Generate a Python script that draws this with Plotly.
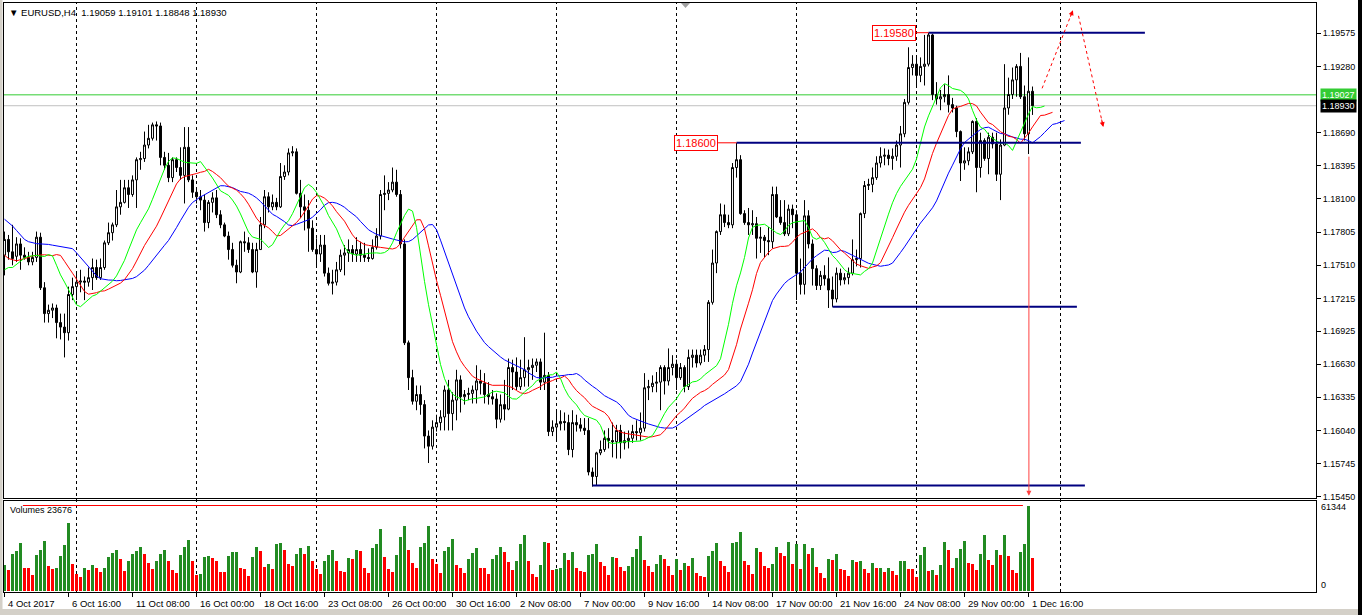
import numpy as np
import plotly.graph_objects as go

PIP = 10000.0

# ---------------- price data (EURUSD H4, in pips) ----------------
opens_pips = [
    11760, 11774, 11763, 11759, 11770, 11760, 11758, 11754, 11758, 11776,
    11731, 11708, 11711, 11713, 11700, 11696, 11691, 11725, 11732, 11736,
    11737, 11736, 11740, 11749, 11740, 11749, 11771, 11780, 11787, 11803,
    11807, 11820, 11814, 11827, 11845, 11846, 11858, 11864, 11876, 11875,
    11847, 11840, 11829, 11845, 11838, 11831, 11856, 11827, 11816, 11812,
    11809, 11789, 11807, 11811, 11796, 11787, 11777, 11765, 11751, 11745,
    11772, 11771, 11765, 11745, 11765,
    11787, 11812, 11803, 11807, 11803, 11830, 11834, 11851, 11852, 11815,
    11803, 11800, 11784, 11765, 11761, 11769, 11744, 11735, 11736, 11747,
    11760, 11762, 11765, 11761, 11765, 11760, 11758, 11757, 11767, 11777,
    11814, 11815, 11818, 11825, 11814, 11770, 11682, 11651, 11630, 11636,
    11627, 11599, 11590, 11607, 11611, 11616, 11640, 11619, 11631, 11649,
    11634, 11636, 11637, 11640, 11648, 11646, 11636, 11634, 11632, 11614,
    11627, 11623, 11660, 11656, 11643,
    11651, 11658, 11660, 11662, 11665, 11647, 11653, 11603, 11607, 11610,
    11612, 11611, 11587, 11611, 11609, 11606, 11604, 11567, 11563, 11584,
    11587, 11597, 11595, 11594, 11604, 11593, 11595, 11597, 11603, 11602,
    11606, 11642, 11643, 11646, 11647, 11660, 11648, 11660, 11663, 11651,
    11660, 11643, 11669, 11671, 11664, 11671, 11676, 11718, 11753, 11781,
    11796, 11789, 11787, 11838, 11845, 11797, 11789, 11787, 11788, 11775,
    11776, 11773, 11772, 11814,
    11794, 11789, 11779, 11801, 11796, 11744, 11734, 11795, 11770, 11748,
    11733, 11742, 11739, 11729, 11721, 11744, 11738, 11740, 11744, 11756,
    11757, 11797, 11822, 11823, 11829, 11842, 11848, 11849, 11846, 11848,
    11858, 11868, 11896, 11927, 11930, 11920, 11928, 11930, 11956, 11903,
    11899, 11901, 11903, 11894, 11891, 11870, 11842, 11844, 11852, 11879,
    11838, 11862, 11846, 11865, 11859, 11832, 11858, 11891, 11903, 11916,
    11928, 11901, 11868, 11905.9,
]
highs_pips = [
    11781, 11778, 11787, 11776, 11775, 11767, 11763, 11763, 11781, 11780,
    11736, 11716, 11717, 11716, 11708, 11708, 11732, 11740, 11744, 11747,
    11741, 11749, 11757, 11756, 11757, 11773, 11789, 11789, 11818, 11827,
    11827, 11827, 11831, 11847, 11852, 11870, 11876, 11878, 11879, 11878,
    11852, 11851, 11847, 11847, 11856, 11874, 11874, 11831, 11820, 11818,
    11814, 11809, 11816, 11818, 11800, 11789, 11781, 11771, 11756, 11773,
    11781, 11776, 11771, 11771, 11794,
    11818, 11816, 11814, 11811, 11842, 11840, 11855, 11857, 11855, 11827,
    11814, 11809, 11791, 11775, 11778, 11778, 11749, 11747, 11754, 11765,
    11769, 11774, 11769, 11776, 11772, 11771, 11766, 11774, 11784, 11818,
    11831, 11825, 11838, 11836, 11818, 11774, 11684, 11658, 11644, 11644,
    11631, 11604, 11613, 11618, 11622, 11644, 11649, 11638, 11658, 11653,
    11640, 11642, 11644, 11662, 11658, 11655, 11647, 11640, 11637, 11636,
    11649, 11668, 11667, 11669, 11667,
    11687, 11667, 11668, 11668, 11668, 11691, 11656, 11613, 11622, 11622,
    11620, 11618, 11622, 11618, 11615, 11615, 11615, 11571, 11585, 11595,
    11604, 11606, 11611, 11609, 11609, 11603, 11604, 11609, 11613, 11620,
    11655, 11649, 11653, 11656, 11662, 11662, 11677, 11671, 11667, 11664,
    11662, 11676, 11676, 11676, 11676, 11680, 11720, 11765, 11782, 11806,
    11805, 11796, 11842, 11860, 11849, 11800, 11802, 11800, 11794, 11785,
    11778, 11785, 11821, 11821,
    11809, 11809, 11805, 11805, 11800, 11757, 11809, 11800, 11774, 11751,
    11746, 11751, 11758, 11741, 11749, 11748, 11744, 11749, 11774, 11765,
    11798, 11826, 11828, 11838, 11848, 11856, 11855, 11854, 11855, 11862,
    11875, 11899, 11945, 11938, 11936, 11936, 11956, 11958, 11957, 11914,
    11907, 11912, 11920, 11900, 11893, 11871, 11856, 11856, 11880, 11882,
    11869, 11864, 11869, 11869, 11869, 11863, 11930, 11918, 11927, 11930,
    11940, 11911, 11936, 11910.1,
]
lows_pips = [
    11742, 11756, 11751, 11754, 11747, 11756, 11751, 11751, 11754, 11729,
    11700, 11700, 11704, 11686, 11685, 11669, 11684, 11720, 11720, 11727,
    11720, 11732, 11729, 11738, 11738, 11747, 11769, 11773, 11785, 11796,
    11806, 11802, 11812, 11802, 11836, 11843, 11855, 11862, 11862, 11840,
    11836, 11825, 11825, 11834, 11827, 11806, 11825, 11811, 11806, 11800,
    11781, 11784, 11798, 11793, 11784, 11776, 11756, 11749, 11735, 11744,
    11763, 11762, 11744, 11731, 11765,
    11784, 11798, 11800, 11800, 11802, 11827, 11831, 11848, 11814, 11793,
    11782, 11763, 11763, 11751, 11754, 11741, 11733, 11725, 11733, 11745,
    11742, 11754, 11754, 11754, 11754, 11754, 11754, 11756, 11765, 11774,
    11800, 11809, 11816, 11812, 11766, 11680, 11640, 11627, 11622, 11618,
    11588, 11575, 11587, 11603, 11604, 11604, 11604, 11604, 11613, 11620,
    11627, 11631, 11628, 11628, 11636, 11628, 11627, 11627, 11606, 11611,
    11613, 11622, 11640, 11640, 11640,
    11643, 11643, 11649, 11656, 11640, 11640, 11599, 11599, 11595, 11604,
    11604, 11582, 11580, 11603, 11603, 11600, 11564, 11554, 11555, 11582,
    11585, 11588, 11580, 11579, 11579, 11587, 11588, 11593, 11595, 11595,
    11603, 11631, 11638, 11638, 11622, 11636, 11644, 11653, 11640, 11649,
    11638, 11640, 11660, 11660, 11662, 11665, 11665, 11716, 11744, 11778,
    11785, 11784, 11784, 11829, 11796, 11787, 11778, 11778, 11757, 11762,
    11758, 11760, 11766, 11793,
    11787, 11777, 11777, 11784, 11720, 11725, 11725, 11766, 11733, 11729,
    11729, 11733, 11713, 11714, 11718, 11733, 11734, 11734, 11742, 11750,
    11749, 11793, 11818, 11816, 11827, 11838, 11840, 11840, 11836, 11844,
    11838, 11865, 11894, 11920, 11911, 11914, 11911, 11928, 11898, 11894,
    11889, 11896, 11887, 11887, 11865, 11826, 11836, 11840, 11850, 11816,
    11829, 11844, 11832, 11855, 11826, 11809, 11857, 11885, 11899, 11901,
    11899, 11862, 11850, 11884.8,
]
closes_pips = [
    11774, 11763, 11757, 11770, 11760, 11758, 11754, 11758, 11776, 11731,
    11708, 11711, 11713, 11700, 11696, 11691, 11725, 11732, 11736, 11737,
    11736, 11740, 11749, 11740, 11749, 11771, 11780, 11787, 11803, 11807,
    11820, 11814, 11827, 11845, 11846, 11858, 11864, 11876, 11875, 11847,
    11840, 11829, 11845, 11838, 11831, 11856, 11827, 11816, 11812, 11809,
    11789, 11807, 11811, 11796, 11787, 11777, 11765, 11751, 11745, 11772,
    11771, 11765, 11745, 11765, 11787,
    11812, 11803, 11807, 11803, 11830, 11834, 11851, 11852, 11815, 11803,
    11800, 11784, 11765, 11761, 11769, 11744, 11735, 11736, 11747, 11760,
    11762, 11765, 11761, 11765, 11760, 11758, 11757, 11767, 11777, 11814,
    11815, 11818, 11825, 11814, 11770, 11682, 11651, 11630, 11636, 11627,
    11599, 11590, 11607, 11611, 11616, 11640, 11619, 11631, 11649, 11634,
    11636, 11637, 11640, 11648, 11646, 11636, 11634, 11632, 11614, 11627,
    11623, 11660, 11656, 11643, 11651,
    11658, 11660, 11662, 11665, 11647, 11653, 11603, 11607, 11610, 11612,
    11611, 11587, 11611, 11609, 11606, 11604, 11567, 11563, 11584, 11587,
    11597, 11595, 11594, 11604, 11593, 11595, 11597, 11603, 11602, 11606,
    11642, 11643, 11646, 11647, 11660, 11648, 11660, 11663, 11651, 11660,
    11643, 11669, 11671, 11664, 11671, 11676, 11718, 11753, 11781, 11796,
    11789, 11787, 11838, 11845, 11797, 11789, 11787, 11788, 11775, 11776,
    11773, 11772, 11814, 11794,
    11789, 11779, 11801, 11796, 11744, 11734, 11795, 11770, 11748, 11733,
    11742, 11739, 11729, 11721, 11744, 11738, 11740, 11744, 11756, 11757,
    11797, 11822, 11823, 11829, 11842, 11848, 11849, 11846, 11848, 11858,
    11868, 11896, 11927, 11930, 11920, 11928, 11930, 11956, 11903, 11899,
    11901, 11903, 11894, 11891, 11870, 11842, 11844, 11852, 11879, 11838,
    11862, 11846, 11865, 11859, 11832, 11858, 11891, 11903, 11916, 11928,
    11901, 11868, 11905.9, 11893.0,
]
volumes = [
    18500, 15000, 26500, 28700, 35000, 16400, 16300, 11300, 25800, 30000,
    36000, 17800, 15700, 16400, 25000, 33000, 49000, 19300, 12000, 9900,
    16400, 15000, 18500, 16400, 13700, 17000, 24300, 27200, 30000, 23000,
    14200, 21400, 26500, 28700, 32000, 26500, 20000, 15700, 22000, 26500,
    29400, 21400, 15000, 12800, 25800, 32000, 36600, 22000, 11300, 12000,
    24300, 25000, 24000, 22000, 13500, 13400, 25000, 28000, 28500, 17000,
    15700, 10600, 24300, 31600, 28700, 17400, 19800, 15700, 34000, 35000,
    30000, 19300, 17800, 26500, 30800, 27000, 32300, 21400, 15700, 12000,
    22000, 25800, 29400, 21400, 14200, 13500, 23600, 23000, 29400, 28700,
    16400, 12800, 30800, 33700, 44600, 24300, 15700, 13500, 25800, 38800,
    46800, 30000, 20000, 17000, 31600, 34500, 46800, 23000, 19300, 12800,
    28700, 31600, 37400, 18600, 17000, 12800, 23000, 27200, 30800, 17000,
    16400, 12000, 23000, 25800, 31600, 28000, 20700, 15000, 22000, 33700,
    40500, 21700, 12300, 10000, 18800, 35400, 34500, 15200, 15900, 16600,
    27500, 22400, 28200, 16600, 14500, 13700, 26000, 26800, 34000, 21000,
    18000, 11600, 24600, 23900, 17400, 14500, 18000, 24600, 30400, 39800,
    22400, 18000, 13700, 19500, 26000, 23000, 18000, 11600, 23000, 15200,
    20200, 18000, 23900, 13000, 10800, 10000, 25300, 29000, 34700, 21700,
    18000, 13700, 34700, 35400, 42700, 21700, 18800, 12300, 31000, 28200,
    18000, 16600, 19500, 31800, 27800, 25200, 35200, 19600, 34200, 15900,
    33700, 27000, 31000, 17200, 13300, 9300, 23000, 22300, 26500, 15900,
    15100, 10900, 22500, 20900, 21700, 15600, 12700, 19900, 16400, 17000,
    13800, 16700, 14300, 11900, 21700, 22000, 15900, 15800, 10000, 26000,
    31500, 14300, 15100, 11700, 18800, 35800, 30000, 17000, 23900, 30500,
    36300, 19900, 19800, 15100, 26800, 40300, 22300, 19100, 29400, 25700,
    40800, 25200, 15100, 12700, 28400, 33900, 61344, 23676,
]

# Alligator values already on the chart before the first bar (pips)
jaw_pre = [11792, 11789, 11786, 11782, 11778, 11774, 11772, 11771]
teeth_pre = [11760, 11757, 11756, 11755, 11756]
lips_pre = [11747, 11749, 11749]

# x-axis labels (bar index -> text)
tick_bars = [0, 16, 32, 48, 64, 80, 96, 112, 128, 144, 160, 176, 192, 208, 224, 240, 256]
tick_texts = ["4 Oct 2017", "6 Oct 16:00", "11 Oct 08:00", "16 Oct 00:00", "18 Oct 16:00",
              "23 Oct 08:00", "26 Oct 00:00", "30 Oct 16:00", "2 Nov 08:00", "7 Nov 00:00",
              "9 Nov 16:00", "14 Nov 08:00", "17 Nov 00:00", "21 Nov 16:00", "24 Nov 08:00",
              "29 Nov 00:00", "1 Dec 16:00"]
grid_bars = [18, 48, 78, 108, 138, 168, 198, 228, 264]

price_ticks = [1.19575, 1.19280, 1.18690, 1.18395, 1.18100, 1.17805, 1.17510,
               1.17215, 1.16925, 1.16630, 1.16335, 1.16040, 1.15745, 1.15450]

# drawn objects (price levels and start/end bars)
levels = [(1.19580, 231, 285.1), (1.18600, 183, 269.1), (1.17140, 207, 268.1), (1.15550, 147, 270.1)]
green_level = 1.19027
bid_level = 1.18930

# ---------------- computations ----------------
o = np.array(opens_pips) / PIP
h = np.array(highs_pips) / PIP
l = np.array(lows_pips) / PIP
c = np.array(closes_pips) / PIP
v = np.array(volumes, dtype=float)
n = len(c)
x = np.arange(n)
med = (h + l) / 2.0


def smma(pre, period):
    vals = [p / PIP for p in pre]
    s = vals[-1]
    for m in med:
        s = (s * (period - 1) + m) / period
        vals.append(s)
    return np.arange(len(vals)), vals


jaw_x, jaw_y = smma(jaw_pre, 13)
teeth_x, teeth_y = smma(teeth_pre, 8)
lips_x, lips_y = smma(lips_pre, 5)

vol_colors = ['#228B22'] + ['#228B22' if v[i] > v[i - 1] else '#FF0000' for i in range(1, n)]

# ---------------- layout geometry ----------------
W, H = 1362, 615
ML, MR, MT, MB = 4, 46, 3, 23
PH = H - MT - MB
PW = W - ML - MR


def px_x(p):
    return (p - ML) / PW


def px_y(p):
    return (H - MB - p) / PH


XR = [-0.125, (W - MR - 4.5) / 4.0]
main_dom = [px_y(498), 1.0]
vol_dom = [0.0, px_y(501)]
YR = [1.19871 - 0.000089 * 498, 1.19871 - 0.000089 * MT]
VR = [-723, 65106]

FONT = "Liberation Sans, Arial, sans-serif"

fig = go.Figure()
fig.add_trace(go.Candlestick(
    x=x, open=o, high=h, low=l, close=c,
    increasing=dict(line=dict(color='black', width=1), fillcolor='white'),
    decreasing=dict(line=dict(color='black', width=1), fillcolor='black'),
    whiskerwidth=0, xaxis='x', yaxis='y', hoverinfo='skip', showlegend=False))
fig.add_trace(go.Scatter(x=jaw_x, y=jaw_y, mode='lines', line=dict(color='#0000FF', width=1),
                         xaxis='x', yaxis='y', hoverinfo='skip', showlegend=False))
fig.add_trace(go.Scatter(x=teeth_x, y=teeth_y, mode='lines', line=dict(color='#FF0000', width=1),
                         xaxis='x', yaxis='y', hoverinfo='skip', showlegend=False))
fig.add_trace(go.Scatter(x=lips_x, y=lips_y, mode='lines', line=dict(color='#00FF00', width=1),
                         xaxis='x', yaxis='y', hoverinfo='skip', showlegend=False))
fig.add_trace(go.Bar(x=x, y=v, width=0.55, marker=dict(color=vol_colors, line=dict(width=0)),
                     xaxis='x2', yaxis='y2', hoverinfo='skip', showlegend=False))

shapes = []
# vertical dashed grid
for b in grid_bars:
    shapes.append(dict(type='line', xref='x', yref='paper', x0=b, x1=b, y0=0, y1=1,
                       line=dict(color='black', width=1, dash='3px,3px'), layer='below'))
# price lines
shapes.append(dict(type='line', xref='paper', yref='y', x0=0, x1=1, y0=green_level, y1=green_level,
                   line=dict(color='#33CC33', width=1), layer='below'))
shapes.append(dict(type='line', xref='paper', yref='y', x0=0, x1=1, y0=bid_level, y1=bid_level,
                   line=dict(color='#C0C0C0', width=1), layer='below'))
# navy horizontal levels
for lvl, b0, b1 in levels:
    shapes.append(dict(type='line', xref='x', yref='y', x0=b0, x1=b1, y0=lvl, y1=lvl,
                       line=dict(color='#000080', width=2)))
# connectors from red labels
shapes.append(dict(type='line', xref='x', yref='y', x0=227.9, x1=231, y0=1.19580, y1=1.19580,
                   line=dict(color='red', width=1)))
shapes.append(dict(type='line', xref='x', yref='y', x0=178.4, x1=183, y0=1.18600, y1=1.18600,
                   line=dict(color='red', width=1)))
# dotted forecast path
shapes.append(dict(type='line', xref='x', yref='y', x0=259.4, y0=1.19085, x1=267.1, y1=1.1978,
                   line=dict(color='red', width=1, dash='dot')))
shapes.append(dict(type='line', xref='x', yref='y', x0=268.5, y0=1.1973, x1=274.7, y1=1.1874,
                   line=dict(color='red', width=1, dash='dot')))
# red line in volume window
shapes.append(dict(type='line', xref='x2', yref='y2', x0=4.6, x1=254.6, y0=61850, y1=61850,
                   line=dict(color='red', width=1)))
# window decorations
shapes.append(dict(type='rect', xref='paper', yref='paper', x0=px_x(1358), x1=px_x(1363),
                   y0=px_y(616), y1=px_y(-1), fillcolor='black', line=dict(width=0), layer='below'))
shapes.append(dict(type='rect', xref='paper', yref='paper', x0=px_x(-1), x1=px_x(1358),
                   y0=px_y(616), y1=px_y(609), fillcolor='#D4D0C8', line=dict(width=0), layer='below'))
shapes.append(dict(type='rect', xref='paper', yref='paper', x0=px_x(-1), x1=px_x(2.5),
                   y0=px_y(609), y1=px_y(-1), fillcolor='#D4D0C8', line=dict(width=0), layer='below'))
shapes.append(dict(type='path', xref='paper', yref='paper',
                   path='M {:.5f} {:.5f} L {:.5f} {:.5f} L {:.5f} {:.5f} Z'.format(
                       px_x(681), px_y(3), px_x(690), px_y(3), px_x(685.5), px_y(8)),
                   fillcolor='#A0A0A0', line=dict(width=0)))

ann = []
ann.append(dict(xref='paper', yref='paper', x=px_x(7), y=px_y(5), xanchor='left', yanchor='top',
                text='\u25BC EURUSD,H4  1.19059 1.19101 1.18848 1.18930', showarrow=False,
                font=dict(family=FONT, size=9.5, color='black')))
ann.append(dict(xref='paper', yref='paper', x=px_x(8), y=px_y(503), xanchor='left', yanchor='top',
                text='Volumes 23676', showarrow=False, font=dict(family=FONT, size=9, color='black')))
ann.append(dict(xref='paper', yref='paper', x=px_x(1319), y=px_y(507), xanchor='left', yanchor='middle',
                text='61344', showarrow=False, font=dict(family=FONT, size=9, color='black')))
ann.append(dict(xref='paper', yref='paper', x=px_x(1319), y=px_y(585), xanchor='left', yanchor='middle',
                text='0', showarrow=False, font=dict(family=FONT, size=9, color='black')))
ann.append(dict(xref='paper', yref='y', x=px_x(1320), y=green_level, xanchor='left', yanchor='middle',
                text='1.19027', showarrow=False, bgcolor='#33CC33', borderpad=1,
                font=dict(family=FONT, size=9, color='white')))
ann.append(dict(xref='paper', yref='y', x=px_x(1320), y=bid_level, xanchor='left', yanchor='middle',
                text='1.18930', showarrow=False, bgcolor='black', borderpad=1,
                font=dict(family=FONT, size=9, color='white')))
ann.append(dict(xref='x', yref='y', x=227.9, y=1.19580, xanchor='right', yanchor='middle',
                text='1.19580', showarrow=False, bgcolor='white', bordercolor='red', borderwidth=1,
                borderpad=1, font=dict(family=FONT, size=11, color='red')))
ann.append(dict(xref='x', yref='y', x=178.4, y=1.18600, xanchor='right', yanchor='middle',
                text='1.18600', showarrow=False, bgcolor='white', bordercolor='red', borderwidth=1,
                borderpad=1, font=dict(family=FONT, size=11, color='red')))
# red vertical arrow
ann.append(dict(xref='x', yref='y', x=256.1, y=1.15458, axref='x', ayref='y', ax=256.1, ay=1.1849,
                text='', showarrow=True, arrowhead=2, arrowsize=1, arrowwidth=1, arrowcolor='#FF4040'))
# arrow heads of dotted path
ann.append(dict(xref='x', yref='y', x=267.1, y=1.1978, ax=-3, ay=8, text='', showarrow=True,
                arrowhead=2, arrowsize=1, arrowwidth=1, arrowcolor='red'))
ann.append(dict(xref='x', yref='y', x=274.7, y=1.1874, ax=-2, ay=-9, text='', showarrow=True,
                arrowhead=2, arrowsize=1, arrowwidth=1, arrowcolor='red'))
# x-axis labels (left-aligned like the terminal)
for b, t in zip(tick_bars, tick_texts):
    ann.append(dict(xref='x2', yref='paper', x=b, y=px_y(596), xanchor='left', yanchor='top',
                    xshift=1, text=t, showarrow=False, font=dict(family=FONT, size=9.5, color='black')))

fig.update_layout(
    template='none',
    width=W, height=H, margin=dict(l=ML, r=MR, t=MT, b=MB, autoexpand=False),
    paper_bgcolor='white', plot_bgcolor='white', showlegend=False, hovermode=False,
    font=dict(family=FONT, size=9, color='black'),
    xaxis=dict(domain=[0, 1], range=XR, anchor='y', showgrid=False, zeroline=False,
               showticklabels=False, ticks='', showline=True, mirror=True, linecolor='black',
               linewidth=1, rangeslider=dict(visible=False), automargin=False),
    yaxis=dict(domain=main_dom, range=YR, side='right', anchor='x', showgrid=False, zeroline=False,
               tickmode='array', tickvals=price_ticks, ticktext=['%.5f' % t for t in price_ticks],
               ticks='outside', ticklen=4, tickcolor='black', showline=True, mirror=True,
               linecolor='black', linewidth=1, automargin=False,
               tickfont=dict(family=FONT, size=9, color='black')),
    xaxis2=dict(domain=[0, 1], range=XR, anchor='y2', showgrid=False, zeroline=False,
                tickmode='array', tickvals=tick_bars, ticks='outside', ticklen=4, tickcolor='black',
                showticklabels=False, showline=True, mirror=True, linecolor='black', linewidth=1,
                automargin=False),
    yaxis2=dict(domain=vol_dom, range=VR, side='right', anchor='x2', showgrid=False, zeroline=False,
                showticklabels=False, ticks='', showline=True, mirror=True, linecolor='black',
                linewidth=1, automargin=False),
    bargap=0,
    shapes=shapes, annotations=ann,
)

fig.write_html("out.html", config={'displayModeBar': False},
               post_script="document.body.style.margin='0';document.body.style.padding='0';")
